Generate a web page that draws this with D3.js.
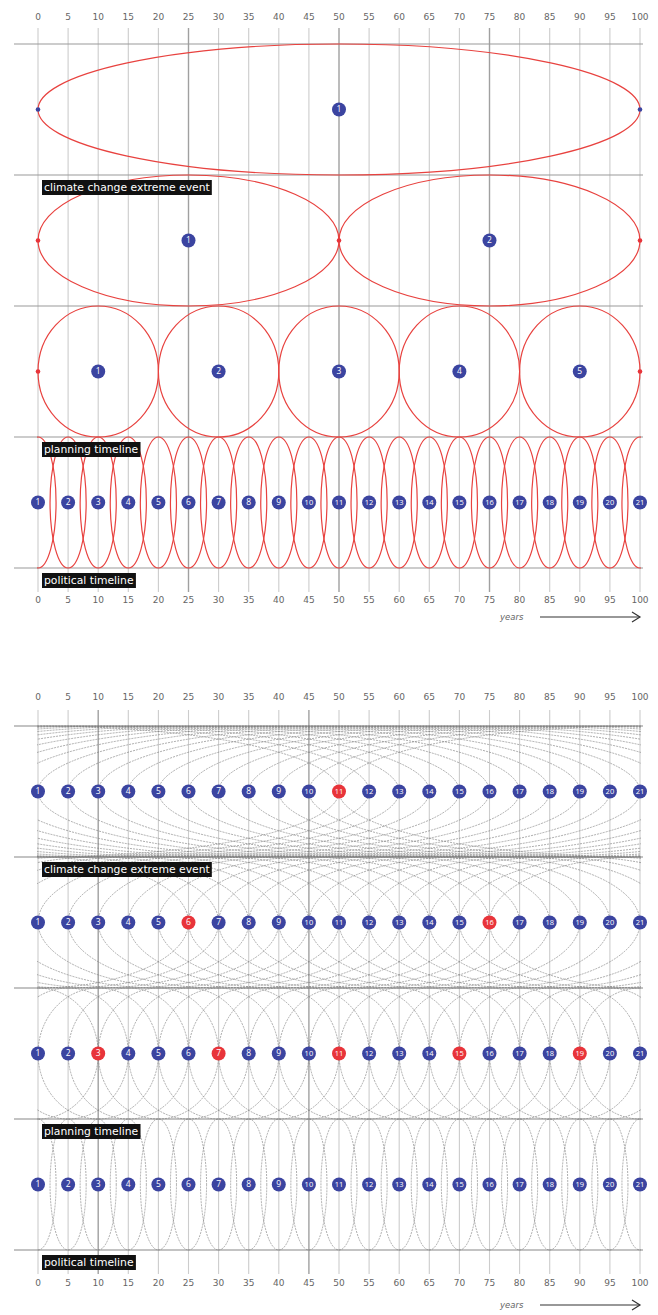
<!DOCTYPE html>
<html><head><meta charset="utf-8">
<script src="https://cdn.jsdelivr.net/npm/d3@7"></script>
<style>body{margin:0;background:#fff}svg{display:block}</style>
</head><body>
<script>
// ---- data ----
const tickYears = [0,5,10,15,20,25,30,35,40,45,50,55,60,65,70,75,80,85,90,95,100];
const labelNumbers = [1,2,3,4,5,6,7,8,9,10,11,12,13,14,15,16,17,18,19,20,21];
const halfSpans = [50, 25, 10, 3];               // half length (years) of each period per row
const topCenters = [[50],[25,75],[10,30,50,70,90],tickYears];
const topNumbers = [[1],[1,2],[1,2,3,4,5],labelNumbers];
const topEndDots = [[0,100],[0,50,100],[0,100],[]];
const topEndDotColors = ["#3b44a0","#e8343a","#e8343a",null];
const bottomRed = [[11],[6,16],[3,7,11,15,19],[]];
const rowLabels = ["climate change extreme event","planning timeline","political timeline"];
const rowLabelLines = [1,3,4];
const darkGridTop = [25,50,75];
const darkGridBottom = [10,45];

const W=658,H=1315;
const svg=d3.select("body").append("svg").attr("width",W).attr("height",H);
const x=d3.scaleLinear().domain([0,100]).range([38,640]);
const BLUE="#3b44a0", RED="#e8343a";

function chart(g, top, opts){
  const y=d3.scaleLinear().domain([0,4]).range([top, top+524]);
  const ph=y(1)-y(0);
  const clipId="clip"+opts.id;
  g.append("clipPath").attr("id",clipId).append("rect")
    .attr("x",x(0)-1).attr("y",top-2).attr("width",x(100)-x(0)+2).attr("height",528);
  // tick labels
  [opts.tickTop, opts.tickBottom].forEach(ty=>{
    g.append("g").selectAll("text").data(tickYears).join("text")
      .attr("x",d=>x(d)).attr("y",ty).attr("text-anchor","middle")
      .attr("font-family","DejaVu Sans, sans-serif").attr("font-size",9)
      .attr("fill","#666").text(d=>d);
  });
  // vertical grid
  g.append("g").selectAll("line").data(tickYears).join("line")
    .attr("x1",d=>x(d)).attr("x2",d=>x(d))
    .attr("y1",top-16).attr("y2",top+524+24)
    .attr("stroke",d=>opts.dark.includes(d)?"#a0a0a0":"#ccc")
    .attr("stroke-width",d=>opts.dark.includes(d)?1.4:1.1);
  // horizontal lines
  g.append("g").selectAll("line").data(d3.range(5)).join("line")
    .attr("x1",14).attr("x2",643).attr("y1",d=>y(d)).attr("y2",d=>y(d))
    .attr("stroke",opts.hColor).attr("stroke-width",1.1);
  // ellipses
  const eg=g.append("g").attr("clip-path",`url(#${clipId})`);
  halfSpans.forEach((hs,i)=>{
    const centers = opts.centers[i];
    eg.append("g").selectAll("ellipse").data(centers).join("ellipse")
      .attr("cx",d=>x(d)).attr("cy",y(i)+ph/2)
      .attr("rx",x(hs)-x(0)).attr("ry",ph/2)
      .attr("fill","none").attr("stroke",opts.eColor)
      .attr("stroke-width",opts.eWidth)
      .attr("stroke-dasharray",opts.dash);
  });
  // end dots
  if(opts.endDots){
    opts.endDots.forEach((arr,i)=>{
      g.append("g").selectAll("circle").data(arr).join("circle")
        .attr("cx",d=>x(d)).attr("cy",y(i)+ph/2).attr("r",2.3)
        .attr("fill",topEndDotColors[i]);
    });
  }
  // numbered markers
  halfSpans.forEach((hs,i)=>{
    const pts = opts.markers[i];
    const mg=g.append("g").selectAll("g").data(pts).join("g")
      .attr("transform",d=>`translate(${x(d.year)},${y(i)+ph/2})`);
    mg.append("circle").attr("r",7).attr("fill",d=>d.red?RED:BLUE);
    mg.append("text").attr("text-anchor","middle").attr("dy","0.35em")
      .attr("font-family","Open Sans, DejaVu Sans, sans-serif").attr("font-size",d=>d.n>9?7.5:8.5)
      .attr("fill","#fff").text(d=>d.n);
  });
  // row labels
  rowLabels.forEach((t,k)=>{
    const ly=y(rowLabelLines[k]);
    const lg=g.append("g");
    const tx=lg.append("text").attr("x",44).attr("y",ly+16)
      .attr("font-family","DejaVu Sans, sans-serif").attr("font-size",10.8)
      .attr("fill","#fff").text(t);
    const bb=tx.node().getBBox();
    lg.insert("rect","text").attr("x",bb.x-2).attr("y",ly+5)
      .attr("width",bb.width+4).attr("height",15).attr("fill","#111");
  });
  // years arrow
  g.append("text").attr("x",500).attr("y",opts.yearsY+3)
    .attr("font-family","DejaVu Sans, sans-serif").attr("font-size",8.5)
    .attr("font-style","italic").attr("fill","#666").text("years");
  g.append("line").attr("x1",540).attr("x2",640).attr("y1",opts.yearsY).attr("y2",opts.yearsY)
    .attr("stroke","#333").attr("stroke-width",1.2);
  g.append("path").attr("d",`M632,${opts.yearsY-5}L640,${opts.yearsY}L632,${opts.yearsY+5}`)
    .attr("fill","none").attr("stroke","#333").attr("stroke-width",1.2);
}

// top chart
chart(svg.append("g"),44,{
  id:"a", tickTop:20, tickBottom:603, dark:darkGridTop, hColor:"#999",
  centers:topCenters, eColor:"#e8423f", eWidth:1.2, dash:null,
  endDots:topEndDots, yearsY:617,
  markers:topCenters.map((c,i)=>c.map((yr,j)=>({year:yr,n:topNumbers[i][j],red:false})))
});
// bottom chart
chart(svg.append("g"),726,{
  id:"b", tickTop:700, tickBottom:1286, dark:darkGridBottom, hColor:"#888",
  centers:halfSpans.map(()=>tickYears), eColor:"#777", eWidth:0.6, dash:"2,1",
  endDots:null, yearsY:1305,
  markers:halfSpans.map((h,i)=>tickYears.map((yr,j)=>({year:yr,n:labelNumbers[j],red:bottomRed[i].includes(labelNumbers[j])})))
});
</script>
</body></html>
